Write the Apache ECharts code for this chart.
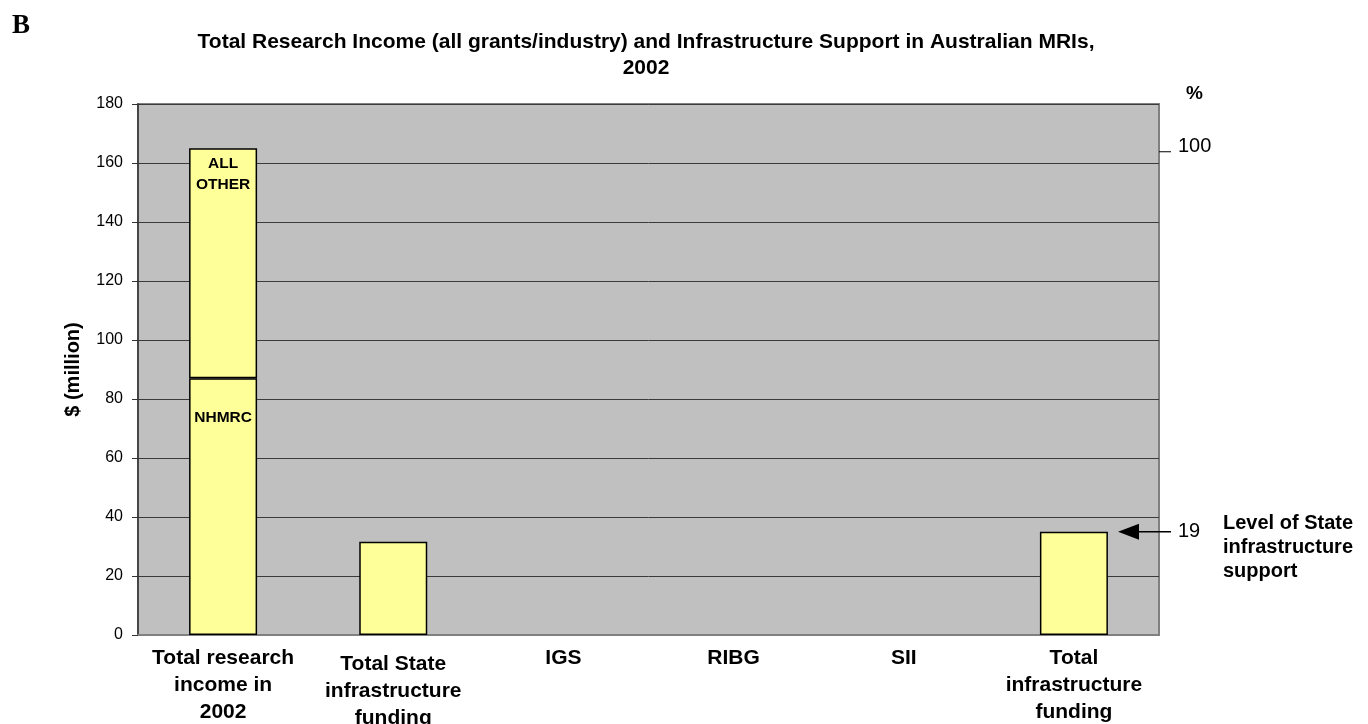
<!DOCTYPE html>
<html>
<head>
<meta charset="utf-8">
<script src="https://cdn.jsdelivr.net/npm/echarts@6/dist/echarts.min.js"></script>
<style>
html,body{margin:0;padding:0;background:#fff;}
#c{width:1368px;height:724px;}
</style>
</head>
<body>
<div id="c"></div>
<script>
// ---- data ----
const categories = ["Total research\nincome in\n2002", "Total State\ninfrastructure\nfunding", "IGS", "RIBG", "SII", "Total\ninfrastructure\nfunding"];
const nhmrc    = [87, null, null, null, null, null];
const allOther = [78, null, null, null, null, null];
const totals   = [null, 31.6, null, null, null, 35];
const yTicks = [0, 20, 40, 60, 80, 100, 120, 140, 160, 180];
const pctTop = 100;     // right-side % label at total income
const pctState = 19;    // level of State infrastructure support (%)

const FONT = "'Liberation Sans', Arial, sans-serif";
const chart = echarts.init(document.getElementById('c'), null, {renderer: 'canvas'});

const barStyle = {color: '#FFFF99', borderColor: '#000', borderWidth: 1.5};

const option = {
  animation: false,
  backgroundColor: '#ffffff',
  title: {
    text: 'Total Research Income (all grants/industry) and Infrastructure Support in Australian MRIs,\n2002',
    left: 641, top: 24, textAlign: 'center',
    textStyle: {fontFamily: FONT, fontSize: 21, fontWeight: 'bold', color: '#000', lineHeight: 26, align: 'center'}
  },
  grid: {
    left: 138, right: 209, top: 104, bottom: 89,
    outerBoundsMode: 'none', containLabel: false,
    show: true, backgroundColor: '#C0C0C0', borderColor: '#808080', borderWidth: 2
  },
  xAxis: {
    type: 'category',
    data: categories.map((c, i) => i === 1 ? {value: c, textStyle: {padding: [6, 0, 0, 0]}} : c),
    axisLine: {show: true, lineStyle: {color: '#808080', width: 2}},
    axisTick: {show: false},
    axisLabel: {interval: 0, margin: 10, fontFamily: FONT, fontSize: 21, fontWeight: 'bold', color: '#000', lineHeight: 27},
    splitLine: {show: false}
  },
  yAxis: {
    type: 'value', min: yTicks[0], max: yTicks[yTicks.length - 1], interval: 20,
    name: '$ (million)', nameLocation: 'middle', nameGap: 55, nameRotate: 90,
    nameTextStyle: {fontFamily: FONT, fontSize: 20, fontWeight: 'bold', color: '#000'},
    axisLine: {show: true, lineStyle: {color: '#333', width: 1.5}},
    axisTick: {show: true, inside: false, length: 6, lineStyle: {color: '#333', width: 1}},
    axisLabel: {margin: 15, fontFamily: FONT, fontSize: 16, color: '#000'},
    splitLine: {show: true, lineStyle: {color: '#3a3a3a', width: 1}}
  },
  series: [
    {name: 'NHMRC', type: 'bar', stack: 'a', barWidth: 68, data: nhmrc, itemStyle: barStyle,
     label: {show: true, position: 'insideTop', distance: 31, formatter: 'NHMRC', fontFamily: FONT, fontSize: 15.5, fontWeight: 'bold', color: '#000'}},
    {name: 'ALL OTHER', type: 'bar', stack: 'a', barWidth: 68, data: allOther, itemStyle: barStyle,
     label: {show: true, position: 'insideTop', distance: 5, formatter: 'ALL\nOTHER', lineHeight: 21, fontFamily: FONT, fontSize: 15.5, fontWeight: 'bold', color: '#000', align: 'center'}},
    {name: 'Totals', type: 'bar', stack: 'a', barWidth: 68, data: totals, itemStyle: barStyle}
  ]
};
chart.setOption(option);

// ---- annotations placed from the chart's own scales ----
const totalIncome = nhmrc[0] + allOther[0];
const yTop = chart.convertToPixel({yAxisIndex: 0}, totalIncome);
const pArrow = chart.convertToPixel({xAxisIndex: 0, yAxisIndex: 0}, [5, totals[5]]);
const plotRight = 1368 - 209;
const ay = pArrow[1];

chart.setOption({
  graphic: [
    {type: 'text', left: 12, top: 13, style: {text: 'B', font: "bold 27px 'Liberation Serif', 'Times New Roman', serif", fill: '#000'}},
    {type: 'text', x: 1194.5, y: 94, style: {text: '%', font: 'bold 19px ' + FONT, fill: '#000', align: 'center', verticalAlign: 'middle'}},
    {type: 'line', shape: {x1: plotRight, y1: yTop + 3.5, x2: plotRight + 12, y2: yTop + 3.5}, style: {stroke: '#000', lineWidth: 1}},
    {type: 'text', x: 1178, y: yTop - 2, style: {text: String(pctTop), font: '20px ' + FONT, fill: '#000', align: 'left', verticalAlign: 'middle'}},
    {type: 'line', shape: {x1: 1136, y1: ay, x2: 1171, y2: ay}, style: {stroke: '#000', lineWidth: 1.5}},
    {type: 'polygon', shape: {points: [[1118, ay], [1139, ay - 8], [1139, ay + 8]]}, style: {fill: '#000'}},
    {type: 'text', x: 1178, y: ay, style: {text: String(pctState), font: '20px ' + FONT, fill: '#000', align: 'left', verticalAlign: 'middle'}},
    {type: 'text', x: 1223, y: ay - 20, style: {text: 'Level of State\ninfrastructure\nsupport', font: 'bold 20px ' + FONT, lineHeight: 24, fill: '#000', align: 'left', verticalAlign: 'top'}}
  ]
});
</script>
</body>
</html>
